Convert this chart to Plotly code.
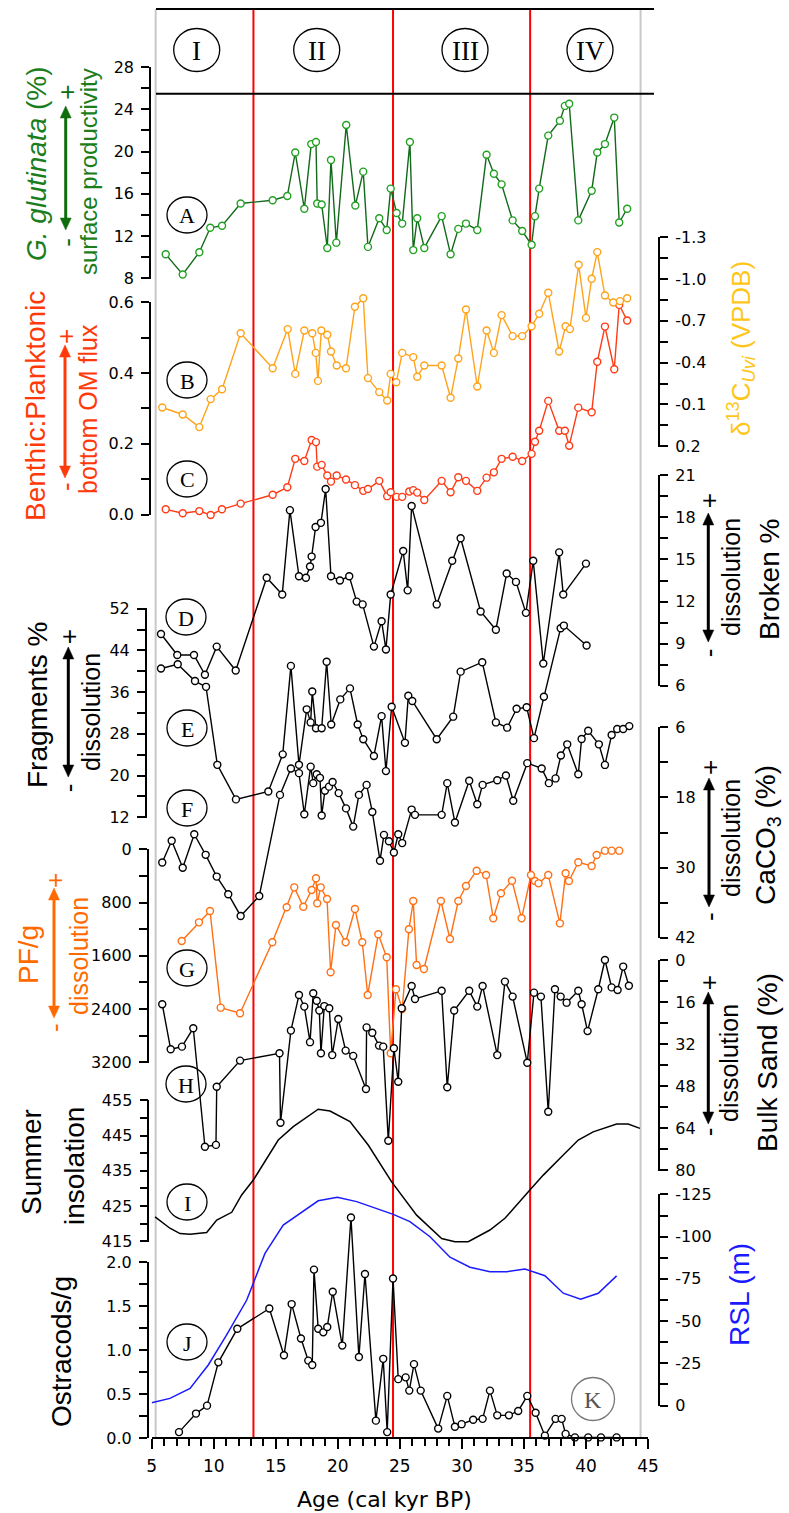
import plotly.graph_objects as go

W, H = 789, 1513
SANS = "Liberation Sans, Arial, sans-serif"
TICKF = "DejaVu Sans, sans-serif"
SERIF = "Liberation Serif, Times New Roman, serif"

# ---------------- series (age in cal kyr BP) ----------------
age_glut = [6.13, 7.50, 8.84, 9.72, 10.67, 12.17, 14.75, 15.93, 16.57, 17.30, 17.86, 18.24, 18.34, 18.70,
            19.15, 19.45, 19.88, 20.68, 21.41, 22.05, 22.43, 23.34, 23.94, 24.26, 24.74, 25.19, 25.81,
            26.08, 26.40, 26.97, 28.37, 29.09, 29.71, 30.33, 31.24, 31.99, 32.58, 33.20, 34.09, 34.86,
            35.62, 35.89, 36.23, 36.96, 37.90, 38.30, 38.65, 39.38, 40.46, 40.91, 41.53, 42.28, 42.68, 43.32]
glut_pct = [10.3, 8.4, 10.5, 12.8, 13.0, 15.1, 15.4, 15.8, 19.9, 14.6, 20.7, 20.9, 15.1, 15.0,
            10.9, 19.2, 11.4, 22.5, 14.9, 18.1, 11.0, 13.7, 12.6, 16.5, 14.2, 13.2, 20.9,
            10.7, 13.7, 10.9, 13.9, 10.3, 12.7, 13.2, 12.6, 19.7, 17.9, 16.9, 13.5, 12.5,
            11.2, 13.9, 16.5, 21.5, 22.9, 24.3, 24.5, 13.5, 16.3, 19.9, 20.7, 23.2, 13.3, 14.6]

age_d13c = [5.85, 7.50, 8.84, 9.75, 10.67, 12.17, 14.75, 15.96, 16.57, 17.30, 17.94, 18.22, 18.40, 18.67,
            19.15, 19.45, 19.91, 20.66, 21.38, 22.05, 22.43, 23.34, 23.98, 24.26, 24.71, 25.19, 26.08,
            26.40, 26.97, 28.37, 29.09, 29.71, 30.33, 31.24, 31.99, 32.58, 33.20, 34.09, 34.86, 35.62,
            36.23, 36.96, 37.84, 38.36, 38.71, 39.41, 40.00, 40.46, 40.91, 41.53, 42.20, 42.74, 43.32]
d13c_uvi = [-0.08, -0.03, 0.06, -0.14, -0.21, -0.61, -0.36, -0.64, -0.32, -0.63, -0.61, -0.47, -0.27, -0.63,
            -0.60, -0.48, -0.38, -0.36, -0.80, -0.86, -0.29, -0.19, -0.13, -0.32, -0.26, -0.47, -0.44,
            -0.30, -0.38, -0.38, -0.15, -0.43, -0.78, -0.23, -0.63, -0.47, -0.74, -0.59, -0.59, -0.66,
            -0.75, -0.90, -0.48, -0.66, -0.64, -1.10, -0.72, -1.00, -1.19, -0.88, -0.83, -0.84, -0.86]

age_bp = [6.13, 7.50, 8.84, 9.75, 10.66, 12.17, 14.75, 15.93, 16.57, 17.30, 17.89, 18.24, 18.34, 18.70,
          19.15, 19.45, 19.91, 20.66, 21.38, 22.05, 22.43, 23.34, 23.98, 24.26, 24.74, 25.19, 25.76,
          26.08, 26.40, 26.97, 28.37, 29.09, 29.71, 30.33, 31.24, 31.99, 32.58, 33.20, 34.09, 34.86,
          35.62, 35.89, 36.23, 36.96, 37.84, 38.30, 38.65, 39.38, 40.46, 40.91, 41.53, 42.28, 42.68, 43.32]
benthic_planktonic = [0.016, 0.005, 0.011, 0.0, 0.016, 0.032, 0.057, 0.078, 0.158, 0.152, 0.211, 0.205, 0.136, 0.141,
                      0.111, 0.094, 0.111, 0.100, 0.084, 0.068, 0.073, 0.096, 0.053, 0.064, 0.051, 0.051, 0.066,
                      0.070, 0.063, 0.042, 0.096, 0.064, 0.106, 0.096, 0.068, 0.105, 0.120, 0.158, 0.164, 0.152,
                      0.172, 0.206, 0.237, 0.321, 0.237, 0.237, 0.195, 0.302, 0.289, 0.431, 0.530, 0.410, 0.591, 0.547]

age_broken = [5.75, 7.06, 8.41, 9.29, 10.24, 11.77, 14.27, 15.52, 16.14, 16.87, 17.43, 17.76, 17.89, 18.21,
              18.64, 19.02, 19.45, 20.17, 20.92, 21.52, 22.00, 22.91, 23.53, 23.88, 24.26, 25.27, 25.63,
              25.95, 27.97, 29.22, 29.90, 31.51, 32.74, 33.61, 34.36, 35.16, 35.75, 36.56, 37.84, 38.17, 40.00]
broken_pct = [9.7, 8.2, 8.2, 6.8, 8.8, 7.1, 13.7, 12.5, 18.5, 13.8, 13.7, 14.5, 15.2, 17.3,
              17.6, 20.0, 13.8, 13.5, 13.8, 12.0, 11.8, 8.8, 10.6, 8.6, 12.5, 15.6, 12.8,
              18.8, 11.8, 14.9, 16.5, 11.3, 10.0, 14.0, 13.4, 11.2, 14.9, 7.6, 15.5, 12.5, 14.7]

age_frag = [5.75, 7.10, 8.49, 9.38, 10.29, 11.79, 14.40, 15.56, 16.22, 16.87, 17.49, 17.81, 17.94, 18.24,
            18.70, 19.10, 19.47, 20.20, 20.98, 21.60, 22.05, 22.91, 23.53, 23.88, 24.34, 25.41, 25.68,
            26.00, 27.97, 29.30, 29.90, 31.64, 32.74, 33.65, 34.41, 35.22, 35.81, 36.61, 37.96, 38.22, 40.05]
fragments_pct = [40.5, 41.3, 38.1, 37.0, 22.1, 15.5, 17.0, 24.1, 41.0, 22.1, 32.7, 30.2, 36.1, 29.1,
                 29.1, 41.8, 29.8, 34.6, 36.7, 29.8, 27.0, 23.8, 31.4, 20.9, 33.2, 26.3, 35.3,
                 34.3, 27.0, 31.3, 39.9, 41.7, 30.2, 29.2, 32.8, 33.1, 27.2, 35.1, 48.2, 48.7, 44.9]

age_caco3 = [5.85, 6.61, 7.50, 8.43, 9.35, 10.24, 11.17, 12.17, 13.67, 15.34, 16.22, 16.87, 17.30, 17.81,
             18.02, 18.30, 18.56, 18.70, 18.96, 19.29, 19.58, 20.07, 20.66, 21.24, 21.70, 22.32, 22.78,
             23.40, 23.72, 24.12, 24.52, 24.87, 25.19, 25.95, 26.22, 28.37, 28.82, 29.44, 30.59, 31.24,
             31.67, 32.85, 33.55, 34.14, 35.27, 36.43, 37.01, 37.55, 37.98, 38.49, 39.38, 39.65, 40.18,
             41.04, 41.53, 42.07, 42.52, 43.00, 43.49]
caco3_pct = [29.1, 25.4, 30.0, 24.3, 27.8, 31.5, 34.5, 38.2, 34.8, 17.6, 13.1, 13.9, 20.9, 12.8,
             15.6, 14.1, 14.7, 21.1, 16.9, 16.2, 15.4, 17.3, 19.9, 23.0, 17.6, 15.9, 20.5,
             28.8, 24.4, 25.5, 27.4, 24.3, 25.8, 20.1, 21.0, 21.0, 15.6, 22.3, 15.2, 19.2,
             15.9, 15.1, 14.3, 18.6, 12.2, 13.1, 15.6, 14.8, 10.9, 9.0, 14.1, 8.1, 6.7,
             9.0, 12.5, 7.4, 6.4, 6.4, 5.9]

age_pf = [7.42, 8.81, 9.70, 10.56, 12.12, 14.72, 15.88, 16.49, 17.22, 17.89, 18.24, 18.34, 18.62, 19.13,
          19.42, 19.85, 20.63, 21.38, 21.97, 22.41, 23.26, 23.94, 24.26, 24.69, 25.19, 25.73, 26.08,
          26.35, 26.94, 28.31, 29.04, 29.71, 30.33, 31.19, 31.95, 32.53, 33.15, 34.04, 34.81, 35.57,
          35.89, 36.18, 36.96, 37.90, 38.36, 38.63, 39.38, 40.46, 40.86, 41.53, 42.07, 42.68]
pf_per_g = [1378, 1098, 928, 2376, 2460, 1397, 873, 574, 864, 614, 439, 813, 574, 749,
            1846, 1138, 1397, 898, 1397, 2186, 1277, 1622, 3059, 2101, 2396, 1202, 779,
            1737, 1797, 779, 1348, 779, 554, 325, 389, 1038, 663, 475, 1038, 389,
            479, 514, 389, 1113, 364, 479, 199, 255, 90, 25, 25, 25]

age_sand = [5.85, 6.53, 7.44, 8.35, 9.29, 10.18, 10.24, 12.12, 15.30, 15.38, 16.22, 16.87, 17.30, 17.76,
            18.02, 18.30, 18.51, 18.64, 18.91, 19.31, 19.55, 20.04, 20.63, 21.24, 22.27, 22.32, 22.78,
            23.32, 23.66, 24.07, 24.52, 24.87, 25.15, 25.95, 26.22, 28.37, 28.82, 29.38, 30.59, 31.24,
            31.67, 32.85, 33.47, 34.09, 35.27, 35.81, 36.37, 36.96, 37.50, 37.96, 38.44, 39.38, 39.65,
            40.13, 40.99, 41.53, 42.07, 42.55, 43.00, 43.46]
sand_pct = [16.8, 33.9, 32.9, 25.9, 70.9, 70.2, 48.1, 38.2, 35.4, 61.8, 26.8, 13.3, 17.7, 31.2,
            12.6, 15.5, 19.2, 35.4, 17.5, 18.3, 36.1, 22.4, 34.4, 36.4, 49.0, 25.6, 27.6,
            32.5, 32.9, 68.6, 33.5, 46.2, 18.3, 9.9, 14.8, 11.7, 48.3, 19.2, 11.7, 17.7,
            9.9, 36.1, 8.2, 13.9, 39.0, 12.4, 13.9, 57.6, 11.1, 13.9, 16.2, 11.7, 16.8,
            27.0, 11.1, 0.0, 10.4, 11.4, 2.5, 9.8]

age_insol = [5.27, 6.47, 7.28, 8.09, 9.43, 10.24, 11.45, 12.25, 13.19, 15.20, 16.41, 18.42, 19.37, 20.98,
             22.45, 24.34, 26.35, 28.37, 29.44, 30.51, 32.26, 33.47, 35.48, 36.56, 38.17, 39.38, 40.58,
             42.47, 43.40, 44.35]
insolation = [422.0, 418.8, 417.3, 417.1, 417.6, 421.1, 423.3, 428.2, 432.4, 443.7, 447.5, 452.4, 451.9, 448.9,
              442.3, 431.9, 422.5, 415.9, 415.0, 415.0, 418.3, 421.6, 429.6, 433.8, 439.5, 443.7, 446.0,
              448.2, 448.2, 447.0]

age_rsl = [5.0, 6.47, 8.09, 9.56, 11.04, 12.66, 14.13, 15.60, 18.42, 19.96, 21.52, 23.13, 24.47, 25.81,
           27.43, 29.04, 30.65, 32.26, 33.61, 35.08, 36.69, 38.17, 39.57, 40.99, 42.47]
rsl_m = [-1.9, -4.5, -10.4, -24.2, -41.9, -62.5, -90.0, -106.7, -121.0, -123.1, -120.5, -116.6, -113.0, -108.7,
         -99.8, -87.7, -81.8, -79.2, -79.2, -80.8, -76.8, -66.5, -62.9, -66.5, -76.7]

age_ostra = [7.20, 8.57, 9.46, 10.37, 11.90, 14.48, 15.66, 16.28, 17.03, 17.62, 17.94, 18.08, 18.42, 18.83,
             19.15, 19.59, 20.36, 21.06, 21.70, 22.19, 23.07, 23.66, 23.98, 24.45, 24.87, 25.47, 25.76,
             26.14, 26.68, 28.09, 28.82, 29.44, 29.98, 30.91, 31.67, 32.26, 32.85, 33.79, 34.54, 35.27,
             35.94, 36.69, 37.55, 38.04, 38.36, 39.11, 40.18, 41.21, 42.47]
ostracods_per_g = [0.07, 0.28, 0.37, 0.86, 1.24, 1.47, 0.94, 1.52, 1.13, 0.88, 0.83, 1.91, 1.24, 1.20,
                   1.26, 1.66, 1.05, 2.50, 0.92, 1.86, 0.20, 0.90, 0.07, 1.81, 0.67, 0.69, 0.54,
                   0.84, 0.54, 0.11, 0.48, 0.13, 0.16, 0.21, 0.22, 0.54, 0.26, 0.26, 0.31, 0.48,
                   0.29, 0.03, 0.22, 0.22, 0.05, 0.01, 0.01, 0.01, 0.01]

zone_bounds = [13.2, 24.45, 35.5]
zone_names = ["I", "II", "III", "IV"]
age_ticks = [5, 10, 15, 20, 25, 30, 35, 40, 45]

# ---------------- colours ----------------
GREEN_LINE, GREEN_MK, GREEN_TXT = "#11691a", "#21a021", "#1b7d1b"
AMBER = "#ffa31a"
GOLD = "#ffc61a"
RED = "#ff3b16"
RED_TXT = "#ff3a0a"
ORANGE = "#ff6f14"
ORANGE_TXT = "#ff6a00"
BLUE = "#1a1aff"


def fx(px):
    """pixel column -> paper x"""
    return px / W


def fy(py):
    """pixel row -> paper y"""
    return 1 - py / H


# value axis definitions: value at bottom/top end of the drawn axis and the pixel rows of those ends
AXES = {
    "glut":   dict(lo=8, hi=28, p_lo=278.7, p_hi=66.7, side="left", xpix=150.0,
                   major=[8, 12, 16, 20, 24, 28], step=2, fmt="{:.0f}"),
    "bp":     dict(lo=0.0, hi=0.6, p_lo=515.0, p_hi=301.7, side="left", xpix=150.0,
                   major=[0.0, 0.2, 0.4, 0.6], step=0.1, fmt="{:.1f}"),
    "d13c":   dict(lo=0.2, hi=-1.3, p_lo=446.7, p_hi=236.7, side="right", xpix=659.3,
                   major=[0.2, -0.1, -0.4, -0.7, -1.0, -1.3], step=0.15, fmt="{:.1f}"),
    "broken": dict(lo=6, hi=21, p_lo=686.0, p_hi=475.0, side="right", xpix=659.3,
                   major=[6, 9, 12, 15, 18, 21], step=1.5, fmt="{:.0f}"),
    "frag":   dict(lo=12, hi=52, p_lo=817.7, p_hi=608.3, side="left", xpix=145.7,
                   major=[12, 20, 28, 36, 44, 52], step=4, fmt="{:.0f}"),
    "caco3":  dict(lo=42, hi=6, p_lo=938.3, p_hi=726.7, side="right", xpix=659.3,
                   major=[6, 18, 30, 42], step=6, fmt="{:.0f}"),
    "pf":     dict(lo=3200, hi=0, p_lo=1062.7, p_hi=849.0, side="left", xpix=147.7,
                   major=[0, 800, 1600, 2400, 3200], step=400, fmt="{:.0f}"),
    "sand":   dict(lo=80, hi=0, p_lo=1170.7, p_hi=960.0, side="right", xpix=659.3,
                   major=[0, 16, 32, 48, 64, 80], step=8, fmt="{:.0f}"),
    "insol":  dict(lo=415, hi=455, p_lo=1241.7, p_hi=1100.0, side="left", xpix=148.3,
                   major=[415, 425, 435, 445, 455], step=5, fmt="{:.0f}"),
    "rsl":    dict(lo=0, hi=-125, p_lo=1406.0, p_hi=1194.0, side="right", xpix=659.3,
                   major=[0, -25, -50, -75, -100, -125], step=12.5, fmt="{:.0f}"),
    "ostra":  dict(lo=0.0, hi=2.0, p_lo=1438.3, p_hi=1261.7, side="left", xpix=147.7,
                   major=[0.0, 0.5, 1.0, 1.5, 2.0], step=0.25, fmt="{:.1f}"),
}
order = list(AXES.keys())

fig = go.Figure()
layout = {}

# full-height hidden axes carry the data; short visible axes carry the scale
data_id, disp_id = {}, {}
for i, key in enumerate(order):
    a = AXES[key]
    k = (a["hi"] - a["lo"]) / (a["p_hi"] - a["p_lo"])
    rng = [a["lo"] + (H - a["p_lo"]) * k, a["lo"] + (0 - a["p_lo"]) * k]
    n = i + 1
    name = "yaxis" if n == 1 else f"yaxis{n}"
    data_id[key] = "y" if n == 1 else f"y{n}"
    ax = dict(domain=[0, 1], range=rng, visible=False, fixedrange=True, anchor="x", automargin=False)
    if n > 1:
        ax["overlaying"] = "y"
    layout[name] = ax

for i, key in enumerate(order):
    a = AXES[key]
    n = len(order) + i + 1
    name = f"yaxis{n}"
    disp_id[key] = f"y{n}"
    span = a["hi"] - a["lo"]
    eps = 0.002 * span
    nminor = int(round(abs(span) / a["step"]))
    sgn = 1 if span > 0 else -1
    minor_vals = [a["lo"] + sgn * j * a["step"] for j in range(nminor + 1)]
    layout[name] = dict(
        domain=[fy(a["p_lo"]), fy(a["p_hi"])],
        range=[a["lo"] - eps, a["hi"] + eps],
        anchor="free", position=fx(a["xpix"]), side=a["side"], automargin=False,
        showline=True, linecolor="black", linewidth=1.5,
        ticks="outside", ticklen=8, tickwidth=1.5, tickcolor="black",
        tickmode="array", tickvals=a["major"],
        ticktext=[a["fmt"].format(v) for v in a["major"]],
        minor=dict(tickmode="array", tickvals=minor_vals, ticks="outside",
                   ticklen=8, tickwidth=1.5, tickcolor="black"),
        tickfont=dict(family=TICKF, size=16, color="black"),
        ticklabelstandoff=4,
        showgrid=False, zeroline=False, fixedrange=True,
    )
    fig.add_trace(go.Scatter(x=[None], y=[None], xaxis="x", yaxis=disp_id[key],
                             showlegend=False, hoverinfo="skip"))


def series(key, xs, ys, line_color, mk_color=None, markers=True, width=1.4):
    mode = "lines+markers" if markers else "lines"
    fig.add_trace(go.Scatter(
        x=xs, y=ys, mode=mode, xaxis="x", yaxis=data_id[key],
        line=dict(color=line_color, width=width),
        marker=dict(symbol="circle", size=7, color="white",
                    line=dict(color=mk_color or line_color, width=1.4)),
        showlegend=False, hoverinfo="skip", cliponaxis=False,
    ))


series("insol", age_insol, insolation, "black", markers=False, width=1.5)
series("rsl", age_rsl, rsl_m, BLUE, markers=False, width=1.5)
series("glut", age_glut, glut_pct, GREEN_LINE, GREEN_MK)
series("d13c", age_d13c, d13c_uvi, AMBER)
series("bp", age_bp, benthic_planktonic, RED)
series("broken", age_broken, broken_pct, "black")
series("frag", age_frag, fragments_pct, "black")
series("caco3", age_caco3, caco3_pct, "black")
series("pf", age_pf, pf_per_g, ORANGE)
series("sand", age_sand, sand_pct, "black")
series("ostra", age_ostra, ostracods_per_g, "black")

layout["xaxis"] = dict(
    domain=[fx(151.7), fx(648.0)], range=[5, 45], anchor="free", position=fy(1438.3), automargin=False,
    showline=True, linecolor="black", linewidth=1.5,
    ticks="outside", ticklen=10, tickwidth=1.5, tickcolor="black",
    tickmode="array", tickvals=age_ticks, ticktext=[str(v) for v in age_ticks],
    minor=dict(dtick=1, tick0=5, ticks="outside", ticklen=7, tickwidth=1.5, tickcolor="black"),
    tickfont=dict(family=TICKF, size=17, color="black"), ticklabelstandoff=3,
    showgrid=False, zeroline=False, fixedrange=True,
)

shapes = []
top_y, base_y = 9.0, 1438.3
# light frame
for xv in (5.32, 44.4):
    shapes.append(dict(type="line", xref="x", yref="paper", x0=xv, x1=xv, y0=fy(base_y), y1=fy(top_y),
                       line=dict(color="#c8c8c8", width=2), layer="below"))
# zone boundaries
for xv in zone_bounds:
    shapes.append(dict(type="line", xref="x", yref="paper", x0=xv, x1=xv, y0=fy(base_y), y1=fy(top_y),
                       line=dict(color="#ff0000", width=2), layer="below"))
# zone header band
for yv in (top_y, 93.7):
    shapes.append(dict(type="line", xref="paper", yref="paper", x0=fx(156), x1=fx(654), y0=fy(yv), y1=fy(yv),
                       line=dict(color="black", width=2)))

annotations = []


def circled(text, cx, cy, w, h, size, color="black", edge="black"):
    shapes.append(dict(type="circle", xref="paper", yref="paper",
                       x0=fx(cx - w / 2), x1=fx(cx + w / 2), y0=fy(cy + h / 2), y1=fy(cy - h / 2),
                       line=dict(color=edge, width=1.3)))
    annotations.append(dict(text=text, x=fx(cx), y=fy(cy + 1), xref="paper", yref="paper",
                            showarrow=False, xanchor="center", yanchor="middle",
                            font=dict(family=SERIF, size=size, color=color)))


for name, cx in zip(zone_names, [196.7, 316.7, 465.0, 590.0]):
    circled(name, cx, 50, 46, 43, 27)

for name, cx, cy in [("A", 187, 215), ("B", 187, 380), ("C", 187, 479), ("D", 186, 617),
                     ("E", 187, 728), ("F", 187, 808), ("G", 187, 968), ("H", 186, 1084),
                     ("I", 187, 1202), ("J", 187, 1342)]:
    circled(name, cx, cy, 40, 36, 22)
circled("K", 593, 1399, 43, 43, 24, color="#555555", edge="#777777")


def vlabel(text, cx, cy, color, size):
    annotations.append(dict(text=text, x=fx(cx), y=fy(cy), xref="paper", yref="paper",
                            showarrow=False, textangle=-90, xanchor="center", yanchor="middle",
                            font=dict(family=SANS, size=size, color=color)))


vlabel("<i>G. glutinata</i> (%)", 36, 164, GREEN_TXT, 28)
vlabel("surface productivity", 89, 172, GREEN_TXT, 24)
vlabel("Benthic:Planktonic", 35, 406, RED_TXT, 28)
vlabel("bottom OM flux", 88, 409, RED_TXT, 25)
vlabel("Fragments %", 37, 705, "black", 28)
vlabel("dissolution", 91, 712, "black", 25)
vlabel("PF/g", 28, 955, ORANGE_TXT, 28)
vlabel("dissolution", 79, 956, ORANGE_TXT, 25)
vlabel("Summer", 31, 1162, "black", 28)
vlabel("insolation", 74, 1166, "black", 28)
vlabel("Ostracods/g", 61, 1352, "black", 28)
vlabel("δ<sup>13</sup>C<sub><i>Uvi</i></sub> (VPDB)", 741, 349, GOLD, 26)
vlabel("Broken %", 769, 580, "black", 28)
vlabel("dissolution", 731, 577, "black", 25)
vlabel("CaCO<sub>3</sub> (%)", 768, 835, "black", 28)
vlabel("dissolution", 731, 838, "black", 25)
vlabel("Bulk Sand (%)", 767, 1063, "black", 28)
vlabel("dissolution", 729, 1063, "black", 25)
vlabel("RSL (m)", 739, 1295, BLUE, 28)


def updown(cx, top, bottom, plus_y, minus_y, color):
    # double-headed arrow: shaft plus two filled triangular heads
    hl, hw = 12, 5.5
    shapes.append(dict(type="line", xref="paper", yref="paper",
                       x0=fx(cx), x1=fx(cx), y0=fy(top + hl - 1), y1=fy(bottom - hl + 1),
                       line=dict(color=color, width=3)))
    for tip, base in ((top, top + hl), (bottom, bottom - hl)):
        path = (f"M {fx(cx)},{fy(tip)} L {fx(cx - hw)},{fy(base)} "
                f"L {fx(cx + hw)},{fy(base)} Z")
        shapes.append(dict(type="path", xref="paper", yref="paper", path=path,
                           fillcolor=color, line=dict(color=color, width=0.5)))
    for t, yy in (("+", plus_y), ("-", minus_y)):
        annotations.append(dict(text=t, x=fx(cx + 1), y=fy(yy), xref="paper", yref="paper",
                                showarrow=False, textangle=-90, xanchor="center", yanchor="middle",
                                font=dict(family=SANS, size=26, color=color)))


updown(65.7, 106, 230, 92, 242, "#0e6e0e")
updown(65.0, 345, 478, 337, 487, RED_TXT)
updown(68.3, 647, 777, 637, 788, "black")
updown(54.0, 888, 1018, 880, 1027, ORANGE_TXT)
updown(708.3, 513, 642, 501, 653, "black")
updown(709.0, 778, 907, 768, 917, "black")
updown(708.3, 992, 1124, 983, 1132, "black")

annotations.append(dict(text="Age (cal kyr BP)", x=fx(384), y=fy(1499), xref="paper", yref="paper",
                        showarrow=False, xanchor="center", yanchor="middle",
                        font=dict(family=TICKF, size=22, color="black")))

fig.update_layout(
    width=W, height=H, autosize=False,
    margin=dict(l=0, r=0, t=0, b=0, pad=0, autoexpand=False),
    paper_bgcolor="white", plot_bgcolor="rgba(0,0,0,0)",
    showlegend=False, hovermode=False,
    shapes=shapes, annotations=annotations,
    **layout,
)

fig.write_html("out.html")
